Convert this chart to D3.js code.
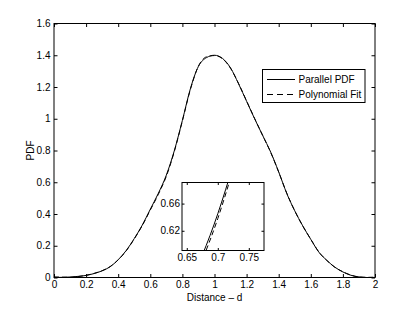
<!DOCTYPE html>
<html lang="en">
<head>
<meta charset="UTF-8">
<title>Parallel PDF</title>
<script src="https://d3js.org/d3.v7.min.js"></script>
<style>
  body { margin: 0; background: #fff; }
  svg { font-family: "Liberation Sans", Arial, sans-serif; font-size: 10px; }
  .tick text { fill: #000; }
</style>
</head>
<body>
<div id="chart"></div>
<script>
// values
const distance = [0, 0.05, 0.1, 0.15, 0.2, 0.25, 0.3, 0.35, 0.4, 0.45, 0.5, 0.55, 0.6, 0.65, 0.7, 0.75,
  0.8, 0.85, 0.9, 0.95, 1.0, 1.05, 1.1, 1.15, 1.2, 1.25, 1.3, 1.35, 1.4, 1.45, 1.5, 1.55, 1.6,
  1.65, 1.7, 1.75, 1.8, 1.85, 1.9, 1.95, 2.0];
const parallelPdf = [0, 0.001, 0.003, 0.007, 0.013, 0.025, 0.042, 0.068, 0.112, 0.17, 0.245, 0.33,
  0.43, 0.53, 0.645, 0.80, 0.99, 1.19, 1.33, 1.385, 1.40, 1.38, 1.32, 1.22, 1.11, 1.00, 0.895,
  0.79, 0.665, 0.53, 0.42, 0.325, 0.24, 0.16, 0.108, 0.065, 0.035, 0.014, 0.004, 0.0, 0.0];
const polyFit = [0.004, 0.002, 0.001, 0.006, 0.014, 0.026, 0.043, 0.069, 0.111, 0.168, 0.243, 0.327,
  0.425, 0.524, 0.638, 0.795, 0.987, 1.185, 1.332, 1.39, 1.398, 1.378, 1.318, 1.222, 1.112, 1.002,
  0.895, 0.788, 0.664, 0.532, 0.42, 0.324, 0.241, 0.161, 0.107, 0.064, 0.036, 0.015, 0.003, 0.001, 0.002];
const xTicks = [0, 0.2, 0.4, 0.6, 0.8, 1, 1.2, 1.4, 1.6, 1.8, 2];
const yTicks = [0, 0.2, 0.4, 0.6, 0.8, 1, 1.2, 1.4, 1.6];
const insetXTicks = [0.65, 0.7, 0.75];
const insetYTicks = [0.62, 0.66];
const seriesNames = ["Parallel PDF", "Polynomial Fit"];

const W = 415, H = 313;
const svg = d3.select("#chart").append("svg").attr("width", W).attr("height", H);

const x = d3.scaleLinear().domain([0, 2]).range([54, 375]);
const y = d3.scaleLinear().domain([0, 1.6]).range([277.5, 23.5]);

const fmt = d => d3.format("")(+d.toFixed(2));

function box(g, xs, ys, xt, yt, tl, padX, padY) {
  g.append("rect")
    .attr("x", xs.range()[0]).attr("y", ys.range()[1])
    .attr("width", xs.range()[1] - xs.range()[0])
    .attr("height", ys.range()[0] - ys.range()[1])
    .attr("fill", "#fff");
  g.append("g").attr("transform", `translate(0,${ys.range()[0]})`)
    .call(d3.axisBottom(xs).tickValues(xt).tickSize(-tl).tickPadding(padX).tickFormat(fmt));
  g.append("g").attr("transform", `translate(0,${ys.range()[1]})`)
    .call(d3.axisTop(xs).tickValues(xt).tickSize(-tl).tickFormat(""));
  g.append("g").attr("transform", `translate(${xs.range()[0]},0)`)
    .call(d3.axisLeft(ys).tickValues(yt).tickSize(-tl).tickPadding(padY).tickFormat(fmt));
  g.append("g").attr("transform", `translate(${xs.range()[1]},0)`)
    .call(d3.axisRight(ys).tickValues(yt).tickSize(-tl).tickFormat(""));
  g.selectAll(".domain").remove();
  g.selectAll(".tick line").attr("stroke", "#000");
  g.selectAll("text").attr("font-size", 10).attr("font-family", "Liberation Sans, Arial, sans-serif");
}

function curves(g, xs, ys, clipId) {
  const line = vals => d3.line()
    .x((d, i) => xs(d))
    .y((d, i) => ys(vals[i]))
    .curve(d3.curveMonotoneX)(distance);
  const cg = g.append("g").attr("clip-path", `url(#${clipId})`);
  cg.append("path").attr("d", line(parallelPdf))
    .attr("fill", "none").attr("stroke", "#000").attr("stroke-width", 1);
  cg.append("path").attr("d", line(polyFit))
    .attr("fill", "none").attr("stroke", "#000").attr("stroke-width", 1)
    .attr("stroke-dasharray", "5,3");
}

const defs = svg.append("defs");
defs.append("clipPath").attr("id", "clipMain").append("rect")
  .attr("x", 54).attr("y", 23.5).attr("width", 321).attr("height", 254);

// main axes
const main = svg.append("g");
box(main, x, y, xTicks, yTicks, 3.5, 3, 3.5);
curves(main, x, y, "clipMain");
main.append("rect").attr("x", 54).attr("y", 23.5).attr("width", 321).attr("height", 254)
  .attr("fill", "none").attr("stroke", "#000").attr("stroke-width", 1);

// axis labels
svg.append("text").attr("x", 214.5).attr("y", 300.5).attr("text-anchor", "middle")
  .attr("font-size", 10).text("Distance \u2013 d");
svg.append("text").attr("transform", "translate(33.5,150.5) rotate(-90)")
  .attr("text-anchor", "middle").attr("font-size", 10).text("PDF");

// legend
const lg = svg.append("g");
lg.append("rect").attr("x", 262.5).attr("y", 69.5).attr("width", 102.5).attr("height", 33)
  .attr("fill", "#fff").attr("stroke", "#000").attr("stroke-width", 1);
seriesNames.forEach((name, i) => {
  const ly = 79.5 + i * 15;
  lg.append("line").attr("x1", 267).attr("x2", 295).attr("y1", ly).attr("y2", ly)
    .attr("stroke", "#000").attr("stroke-dasharray", i === 1 ? "6,4" : null);
  lg.append("text").attr("x", 298.5).attr("y", ly + 3.5).attr("font-size", 10).text(name);
});

// inset
const xi = d3.scaleLinear().domain([0.6423, 0.7745]).range([182, 264]);
const yi = d3.scaleLinear().domain([0.591, 0.691]).range([250.5, 182.5]);
defs.append("clipPath").attr("id", "clipInset").append("rect")
  .attr("x", 182).attr("y", 182.5).attr("width", 82).attr("height", 68);
const inset = svg.append("g");
box(inset, xi, yi, insetXTicks, insetYTicks, 2.5, 3, 2);
curves(inset, xi, yi, "clipInset");
inset.append("rect").attr("x", 182).attr("y", 182.5).attr("width", 82).attr("height", 68)
  .attr("fill", "none").attr("stroke", "#000").attr("stroke-width", 1);
</script>
</body>
</html>
